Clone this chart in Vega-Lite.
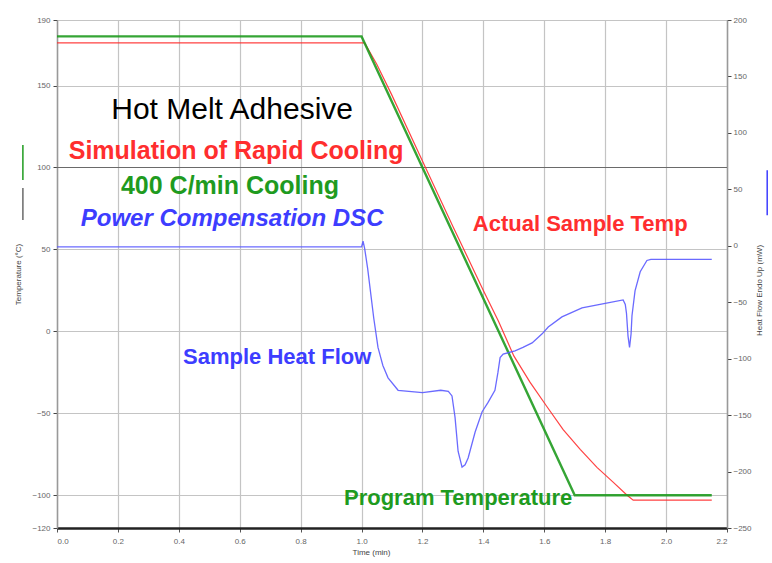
{
  "$schema": "https://vega.github.io/schema/vega-lite/v6.json",
  "width": 670,
  "height": 508,
  "autosize": {"type": "none"},
  "padding": {"left": 57, "top": 20, "right": 45, "bottom": 35},
  "background": "white",
  "config": {
    "font": "Liberation Sans",
    "view": {"stroke": null},
    "axis": {"labelFont": "Liberation Sans", "titleFont": "Liberation Sans"}
  },
  "datasets": {
    "temps": [
      {"t": 0, "T": 180, "series": "program"},
      {"t": 1.0, "T": 180, "series": "program"},
      {"t": 1.7, "T": -100, "series": "program"},
      {"t": 2.15, "T": -100, "series": "program"},
      {"t": 0, "T": 176, "series": "actual"},
      {"t": 1.01, "T": 176, "series": "actual"},
      {"t": 1.05, "T": 163, "series": "actual"},
      {"t": 1.1, "T": 144, "series": "actual"},
      {"t": 1.2, "T": 104, "series": "actual"},
      {"t": 1.3, "T": 64, "series": "actual"},
      {"t": 1.4, "T": 25, "series": "actual"},
      {"t": 1.45, "T": 6, "series": "actual"},
      {"t": 1.5, "T": -15, "series": "actual"},
      {"t": 1.553, "T": -31, "series": "actual"},
      {"t": 1.609, "T": -46, "series": "actual"},
      {"t": 1.662, "T": -60, "series": "actual"},
      {"t": 1.718, "T": -72, "series": "actual"},
      {"t": 1.773, "T": -83, "series": "actual"},
      {"t": 1.826, "T": -92, "series": "actual"},
      {"t": 1.872, "T": -100, "series": "actual"},
      {"t": 1.892, "T": -103, "series": "actual"},
      {"t": 2.15, "T": -103, "series": "actual"}
    ],
    "heat": [
      {"t": 0, "H": -1}, {"t": 1.0, "H": -1}, {"t": 1.005, "H": 4}, {"t": 1.01, "H": -2},
      {"t": 1.02, "H": -20}, {"t": 1.04, "H": -64}, {"t": 1.054, "H": -90}, {"t": 1.07, "H": -106},
      {"t": 1.087, "H": -117}, {"t": 1.12, "H": -128}, {"t": 1.2, "H": -130}, {"t": 1.26, "H": -128},
      {"t": 1.285, "H": -129}, {"t": 1.297, "H": -133}, {"t": 1.307, "H": -152}, {"t": 1.317, "H": -182},
      {"t": 1.33, "H": -196}, {"t": 1.34, "H": -194}, {"t": 1.35, "H": -188}, {"t": 1.373, "H": -165},
      {"t": 1.396, "H": -147}, {"t": 1.415, "H": -139}, {"t": 1.438, "H": -128}, {"t": 1.448, "H": -112},
      {"t": 1.455, "H": -99}, {"t": 1.465, "H": -96}, {"t": 1.504, "H": -93}, {"t": 1.53, "H": -90},
      {"t": 1.56, "H": -86}, {"t": 1.593, "H": -78}, {"t": 1.613, "H": -72}, {"t": 1.658, "H": -63},
      {"t": 1.724, "H": -55}, {"t": 1.8, "H": -51}, {"t": 1.859, "H": -48}, {"t": 1.866, "H": -52},
      {"t": 1.87, "H": -60}, {"t": 1.875, "H": -80}, {"t": 1.88, "H": -90}, {"t": 1.885, "H": -78},
      {"t": 1.888, "H": -62}, {"t": 1.898, "H": -40}, {"t": 1.915, "H": -23}, {"t": 1.937, "H": -13},
      {"t": 1.95, "H": -12}, {"t": 2.15, "H": -12}
    ],
    "labels": [
      {"t": 0.575, "T": 135, "text": "Hot Melt Adhesive", "series": "title", "role": "title"},
      {"t": 0.588, "T": 110, "text": "Simulation of Rapid Cooling", "series": "actual", "role": "head"},
      {"t": 0.568, "T": 88.7, "text": "400 C/min Cooling", "series": "program", "role": "head"},
      {"t": 0.575, "T": 68.6, "text": "Power Compensation DSC", "series": "heat", "role": "headItalic"},
      {"t": 1.718, "T": 65.5, "text": "Actual Sample Temp", "series": "actual", "role": "note"},
      {"t": 0.723, "T": -15.6, "text": "Sample Heat Flow", "series": "heat", "role": "note"},
      {"t": 1.317, "T": -101.6, "text": "Program Temperature", "series": "program", "role": "note"}
    ],
    "ref": [{"t": 0, "t2": 2.2, "T": 100, "series": "ref"}],
    "keysLeft": [
      {"t": -0.112, "T": 113.7, "T2": 92.4, "series": "program"},
      {"t": -0.112, "T": 87.5, "T2": 68, "series": "ref"}
    ],
    "keysRight": [
      {"t": 2.332, "H": 67, "H2": 27, "series": "heat"}
    ]
  },
  "encoding": {
    "x": {
      "field": "t", "type": "quantitative",
      "scale": {"domain": [0, 2.2], "nice": false, "zero": false},
      "axis": {
        "values": [0, 0.2, 0.4, 0.6, 0.8, 1.0, 1.2, 1.4, 1.6, 1.8, 2.0, 2.2],
        "format": ".1f", "labelFontSize": 8, "labelColor": "#666666",
        "domainColor": "#222222", "domainWidth": 2.5, "tickColor": "#555555", "tickSize": 4,
        "labelPadding": 5, "gridColor": "#c4c4c4", "gridWidth": 1.2,
        "title": "Time (min)", "titleFontSize": 8, "titleFontWeight": "normal", "titleColor": "#444444",
        "titlePadding": 3, "titleX": 314
      }
    }
  },
  "layer": [
    {
      "encoding": {
        "y": {
          "field": "T", "type": "quantitative",
          "scale": {"domain": [-120, 190], "nice": false, "zero": false},
          "axis": {
            "values": [-120, -100, -50, 0, 50, 100, 150, 190],
            "labelFontSize": 8, "labelColor": "#666666",
            "domainColor": "#999999", "domainWidth": 1.5, "tickColor": "#444444", "tickSize": 4,
            "labelPadding": 3, "gridColor": "#c4c4c4", "gridWidth": 1.2,
            "title": "Temperature (°C)", "titleFontSize": 8, "titleFontWeight": "normal", "titleColor": "#444444",
            "titlePadding": 9
          }
        }
      },
      "layer": [
        {
          "data": {"name": "ref"},
          "mark": {"type": "rule", "strokeWidth": 1.2},
          "encoding": {
            "x2": {"field": "t2"},
            "color": {"field": "series", "type": "nominal", "legend": null,
              "scale": {"domain": ["program", "actual", "heat", "title", "ref"], "range": ["#1f9b1f", "#ff2e2e", "#3d3dff", "#000000", "#6a6a6a"]}}
          }
        },
        {
          "data": {"name": "keysLeft"},
          "mark": {"type": "rule", "strokeWidth": 1.5},
          "encoding": {
            "y2": {"field": "T2"},
            "color": {"field": "series", "type": "nominal", "legend": null,
              "scale": {"domain": ["program", "actual", "heat", "title", "ref"], "range": ["#1f9b1f", "#ff2e2e", "#3d3dff", "#000000", "#6a6a6a"]}}
          }
        },
        {
          "data": {"name": "temps"},
          "transform": [{"filter": "datum.series == 'actual'"}],
          "mark": {"type": "line", "strokeWidth": 1.2, "opacity": 0.9},
          "encoding": {
            "color": {"field": "series", "type": "nominal", "legend": null,
              "scale": {"domain": ["program", "actual", "heat", "title", "ref"], "range": ["#1f9b1f", "#ff2e2e", "#3d3dff", "#000000", "#6a6a6a"]}}
          }
        },
        {
          "data": {"name": "temps"},
          "transform": [{"filter": "datum.series == 'program'"}],
          "mark": {"type": "line", "strokeWidth": 2.4, "opacity": 0.9},
          "encoding": {
            "color": {"field": "series", "type": "nominal", "legend": null,
              "scale": {"domain": ["program", "actual", "heat", "title", "ref"], "range": ["#1f9b1f", "#ff2e2e", "#3d3dff", "#000000", "#6a6a6a"]}}
          }
        },
        {
          "data": {"name": "labels"},
          "transform": [{"filter": "datum.role == 'title'"}],
          "mark": {"type": "text", "fontSize": 30, "fontWeight": "normal", "align": "center", "baseline": "middle"},
          "encoding": {
            "text": {"field": "text"},
            "color": {"field": "series", "type": "nominal", "legend": null,
              "scale": {"domain": ["program", "actual", "heat", "title", "ref"], "range": ["#1f9b1f", "#ff2e2e", "#3d3dff", "#000000", "#6a6a6a"]}}
          }
        },
        {
          "data": {"name": "labels"},
          "transform": [{"filter": "datum.role == 'head'"}],
          "mark": {"type": "text", "fontSize": 25, "fontWeight": "bold", "align": "center", "baseline": "middle"},
          "encoding": {
            "text": {"field": "text"},
            "color": {"field": "series", "type": "nominal", "legend": null,
              "scale": {"domain": ["program", "actual", "heat", "title", "ref"], "range": ["#1f9b1f", "#ff2e2e", "#3d3dff", "#000000", "#6a6a6a"]}}
          }
        },
        {
          "data": {"name": "labels"},
          "transform": [{"filter": "datum.role == 'headItalic'"}],
          "mark": {"type": "text", "fontSize": 24, "fontWeight": "bold", "fontStyle": "italic", "align": "center", "baseline": "middle"},
          "encoding": {
            "text": {"field": "text"},
            "color": {"field": "series", "type": "nominal", "legend": null,
              "scale": {"domain": ["program", "actual", "heat", "title", "ref"], "range": ["#1f9b1f", "#ff2e2e", "#3d3dff", "#000000", "#6a6a6a"]}}
          }
        },
        {
          "data": {"name": "labels"},
          "transform": [{"filter": "datum.role == 'note'"}],
          "mark": {"type": "text", "fontSize": 22, "fontWeight": "bold", "align": "center", "baseline": "middle"},
          "encoding": {
            "text": {"field": "text"},
            "color": {"field": "series", "type": "nominal", "legend": null,
              "scale": {"domain": ["program", "actual", "heat", "title", "ref"], "range": ["#1f9b1f", "#ff2e2e", "#3d3dff", "#000000", "#6a6a6a"]}}
          }
        }
      ]
    },
    {
      "encoding": {
        "y": {
          "field": "H", "type": "quantitative",
          "scale": {"domain": [-250, 200], "nice": false, "zero": false},
          "axis": {
            "orient": "right",
            "values": [-250, -200, -150, -100, -50, 0, 50, 100, 150, 200],
            "labelFontSize": 8, "labelColor": "#666666", "grid": false,
            "domainColor": "#999999", "domainWidth": 1.5, "tickColor": "#444444", "tickSize": 4,
            "labelPadding": 2,
            "title": "Heat Flow Endo Up (mW)", "titleFontSize": 8, "titleFontWeight": "normal", "titleColor": "#444444",
            "titleAngle": 270, "titlePadding": 12, "titleY": 270
          }
        }
      },
      "layer": [
        {
          "data": {"name": "keysRight"},
          "mark": {"type": "rule", "strokeWidth": 1.5},
          "encoding": {
            "y2": {"field": "H2"},
            "color": {"field": "series", "type": "nominal", "legend": null,
              "scale": {"domain": ["program", "actual", "heat", "title", "ref"], "range": ["#1f9b1f", "#ff2e2e", "#3d3dff", "#000000", "#6a6a6a"]}}
          }
        },
        {
          "data": {"name": "heat"},
          "mark": {"type": "line", "strokeWidth": 1.3, "color": "#5a5aff", "opacity": 0.9},
          "encoding": {}
        }
      ]
    }
  ],
  "resolve": {"scale": {"y": "independent"}, "axis": {"y": "independent"}}
}
